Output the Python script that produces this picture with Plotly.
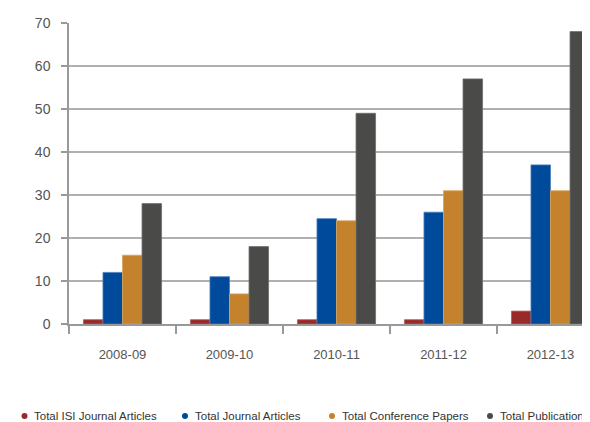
import plotly.graph_objects as go

categories = ["2008-09", "2009-10", "2010-11", "2011-12", "2012-13"]
series_names = ["Total ISI Journal Articles", "Total Journal Articles",
                "Total Conference Papers", "Total Publications"]
isi_journal = [1, 1, 1, 1, 3]
journal = [12, 11, 24.5, 26, 37]
conference = [16, 7, 24, 31, 31]
publications = [28, 18, 49, 57, 68]
y_ticks = [0, 10, 20, 30, 40, 50, 60, 70]

colors = ["#992A2A", "#004A9C", "#C4822C", "#4A4A48"]
edge_colors = ["#B25A5A", "#4A7DBA", "#D9A55E", "#6E6E6C"]
values = [isi_journal, journal, conference, publications]

# page body has an 8px margin; compensate so the chart fills the 590x422 window
OFF = 8
W, H = 590 - OFF, 422 - OFF
L, R, T, B = 69 - OFF, 590 - OFF, 23 - OFF, 324 - OFF

fig = go.Figure()
for name, vals, c, ec in zip(series_names, values, colors, edge_colors):
    fig.add_trace(go.Bar(x=categories, y=vals, name=name,
                         marker=dict(color=c, line=dict(color=ec, width=0.8)),
                         showlegend=False))

# legend drawn as dot + label entries below the chart
def px_to_paper(px):
    return (px - 69) / (590 - 69)

legend_y = (324 - 416) / (324 - 23)
dot_px = [24.5, 185, 332, 490]
for name, c, px in zip(series_names, colors, dot_px):
    fig.add_shape(
        type="circle", xref="paper", yref="paper",
        xsizemode="pixel", ysizemode="pixel",
        xanchor=px_to_paper(px), yanchor=legend_y,
        x0=-3, x1=3, y0=-3, y1=3,
        fillcolor=c, line=dict(width=0),
    )
    fig.add_annotation(
        x=px_to_paper(px + 7.5), y=legend_y,
        xref="paper", yref="paper", xanchor="left", yanchor="middle",
        showarrow=False, text=name,
        font=dict(family="Liberation Sans, Arial, sans-serif", size=11.5, color="#333333"),
    )

fig.update_layout(
    width=W, height=H,
    margin=dict(l=L, r=W - R, t=T, b=H - B),
    paper_bgcolor="white", plot_bgcolor="white",
    barmode="group", bargap=0.27, bargroupgap=0,
    font=dict(family="Liberation Sans, Arial, sans-serif", size=13, color="#555555"),
    showlegend=False,
)
fig.update_xaxes(
    type="category", range=[-0.5, 4.5 - 14 / 107],
    showline=True, linecolor="#999999", linewidth=1.5,
    ticks="outside", tickson="boundaries", ticklen=8, tickcolor="#999999", tickwidth=1.5,
    ticklabelstandoff=18, showgrid=False,
    tickfont=dict(size=13, color="#555555"),
)
fig.update_yaxes(
    range=[0, 70], tickvals=y_ticks,
    showline=True, linecolor="#999999", linewidth=1.5,
    ticks="outside", ticklen=6, tickcolor="#999999", tickwidth=1.5,
    ticklabelstandoff=8,
    showgrid=True, gridcolor="#B0B0B0", gridwidth=1.5,
    zeroline=False,
    tickfont=dict(size=14, color="#555555"),
)

fig.write_html("out.html")
